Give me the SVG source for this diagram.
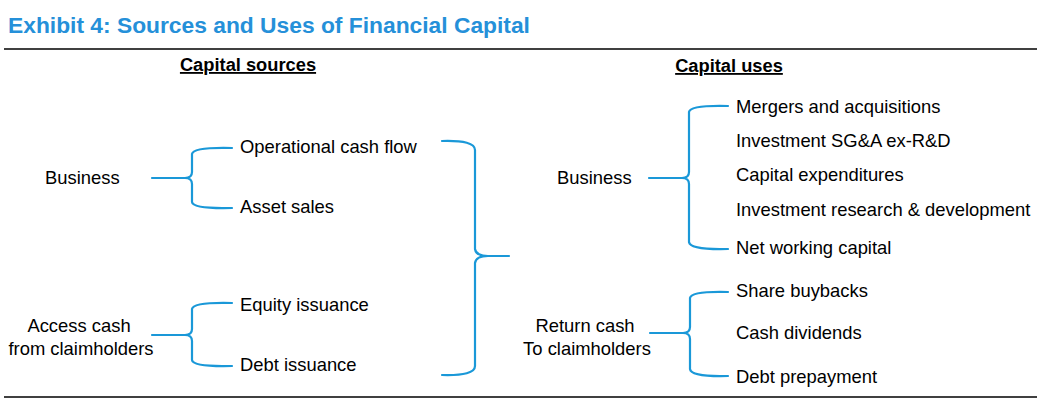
<svg xmlns="http://www.w3.org/2000/svg" width="1037" height="400" viewBox="0 0 1037 400">
<style>
.t{font-family:"Liberation Sans",Arial,sans-serif;font-size:18.4px;fill:#000}
.c{text-anchor:middle}
.h{font-family:"Liberation Sans",Arial,sans-serif;font-size:18.3px;font-weight:bold;fill:#000;text-anchor:middle;text-decoration:underline}
.title{font-family:"Liberation Sans",Arial,sans-serif;font-size:22.8px;font-weight:bold;fill:#2590D9}
.b{fill:none;stroke:#1A98D8;stroke-width:2.2;stroke-linecap:round;stroke-linejoin:round}
.rule{stroke:#000;stroke-width:1.5}
</style>
<rect width="1037" height="400" fill="#fff"/>
<text class="title" x="8" y="33">Exhibit 4: Sources and Uses of Financial Capital</text>
<line class="rule" x1="4" y1="49" x2="1037" y2="49"/>
<line class="rule" x1="4" y1="397" x2="1037" y2="397"/>
<text class="h" x="248" y="71">Capital sources</text>
<text class="h" x="729" y="72">Capital uses</text>

<g id="connectors">
<path class="b" d="M232,148 Q193,147 192,154 L192,172 Q192,178 185,178 L152,178 M185,178 Q192,178 192,184 L192,202 Q193,209 232,208"/>
<path class="b" d="M232,303 Q193,302 192,309 L192,329 Q192,335 185,335 L152,335 M185,335 Q192,335 192,341 L192,360 Q193,367 232,366"/>
<path class="b" d="M442,141 Q475,140 475,150 L475,249 Q476,256 488,256 L509,256 M488,256 Q476,256 475,263 L475,366 Q475,376 442,375"/>
<path class="b" d="M728,106 Q690,105 689,112 L689,172 Q689,178 682,178 L649,178 M682,178 Q689,178 689,184 L689,242 Q690,250 728,249"/>
<path class="b" d="M728,292 Q691,291 690,298 L690,327 Q690,333 683,333 L650,333 M683,333 Q690,333 690,339 L690,369 Q691,377 728,376"/>
</g>

<g id="src-business"><text class="t" x="45" y="184">Business</text></g>
<g id="src-access"><text class="t c" x="79" y="332">Access cash</text><text class="t c" x="81" y="355">from claimholders</text></g>
<g id="src-ocf"><text class="t" x="240" y="153">Operational cash flow</text></g>
<g id="src-asset"><text class="t" x="240" y="213">Asset sales</text></g>
<g id="src-equity"><text class="t" x="240" y="311">Equity issuance</text></g>
<g id="src-debt"><text class="t" x="240" y="371">Debt issuance</text></g>

<g id="use-business"><text class="t" x="557" y="184">Business</text></g>
<g id="use-return"><text class="t c" x="585" y="332">Return cash</text><text class="t c" x="587" y="355">To claimholders</text></g>
<g id="use-ma"><text class="t" x="736" y="113">Mergers and acquisitions</text></g>
<g id="use-sga"><text class="t" x="736" y="147">Investment SG&amp;A ex-R&amp;D</text></g>
<g id="use-capex"><text class="t" x="736" y="181">Capital expenditures</text></g>
<g id="use-rd"><text class="t" x="736" y="216">Investment research &amp; development</text></g>
<g id="use-nwc"><text class="t" x="736" y="254">Net working capital</text></g>
<g id="use-buyback"><text class="t" x="736" y="297">Share buybacks</text></g>
<g id="use-div"><text class="t" x="736" y="339">Cash dividends</text></g>
<g id="use-prepay"><text class="t" x="736" y="383">Debt prepayment</text></g>
</svg>
